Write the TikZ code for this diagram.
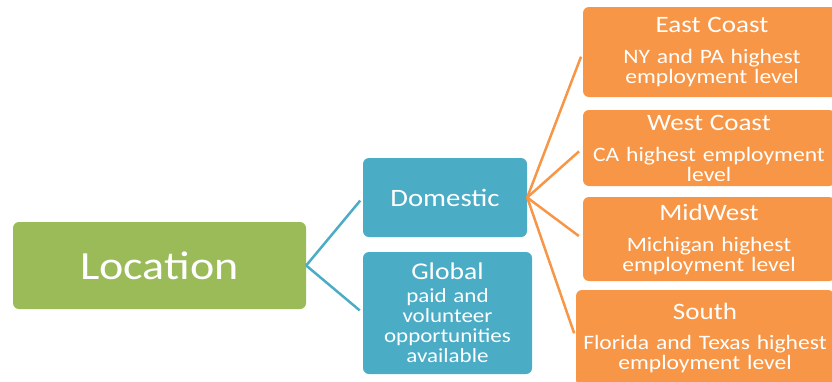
\documentclass[tikz,border=0pt]{standalone}
\usepackage{fontspec}
\setmainfont[FakeStretch=1.15]{Carlito}
\definecolor{locgreen}{HTML}{9BBB59}
\definecolor{regblue}{HTML}{4BACC6}
\definecolor{areaorange}{HTML}{F79646}
\newcommand{\ttl}{\fontsize{23.5}{26}\selectfont}
\newcommand{\sub}{\fontsize{20.5}{20}\selectfont}
\begin{document}
\begin{tikzpicture}[x=1pt,y=-1pt,
    box/.style={rounded corners=6pt,text=white,align=center,inner sep=0pt,font=\sub}]
            \useasboundingbox (0,0) rectangle (832,381);
            \begin{scope}[every node/.style={box}]
                \node[fill=locgreen,minimum width=293pt,minimum height=87pt] (L) at (159.5,265.5) {\fontsize{40}{42}\selectfont Location};
                \node[fill=regblue,minimum width=164pt,minimum height=79pt] (D) at (445,197.5) {\fontsize{25}{27}\selectfont Domestic};
                \node[fill=regblue,minimum width=169pt,minimum height=122pt,text width=169pt,font=\fontsize{20}{20}\selectfont] (G) at (447.5,313) {{\fontsize{24}{26}\selectfont Global\par}\vspace{3pt}paid and\\volunteer\\opportunities\\available};
                \node[fill=areaorange,minimum width=258pt,minimum height=90pt,text width=258pt] (E) at (712,52) {{\ttl East Coast\par}\vspace{11pt}NY and PA highest\\employment level};
                \node[fill=areaorange,minimum width=252pt,minimum height=76pt,text width=252pt] (W) at (709,148) {{\ttl West Coast\par}\vspace{11pt}CA highest employment\\level};
                \node[fill=areaorange,minimum width=252pt,minimum height=84pt,text width=252pt] (M) at (709,239) {{\ttl MidWest\par}\vspace{11pt}Michigan highest\\employment level};
                \node[fill=areaorange,minimum width=258pt,minimum height=96pt,text width=258pt] (S) at (705,338) {{\ttl South\par}\vspace{10pt}Florida and Texas highest\\employment level};
            \end{scope}

            \begin{scope}[line width=2.5pt]
                \path [regblue,shorten >=4pt] (L.east) edge (D.west) edge (G.west);
                \path [areaorange,shorten >=5pt] (D.east) edge (E.west) edge (W.west) edge (M.west) edge (S.west);
            \end{scope}
            \end{tikzpicture}
\end{document}
